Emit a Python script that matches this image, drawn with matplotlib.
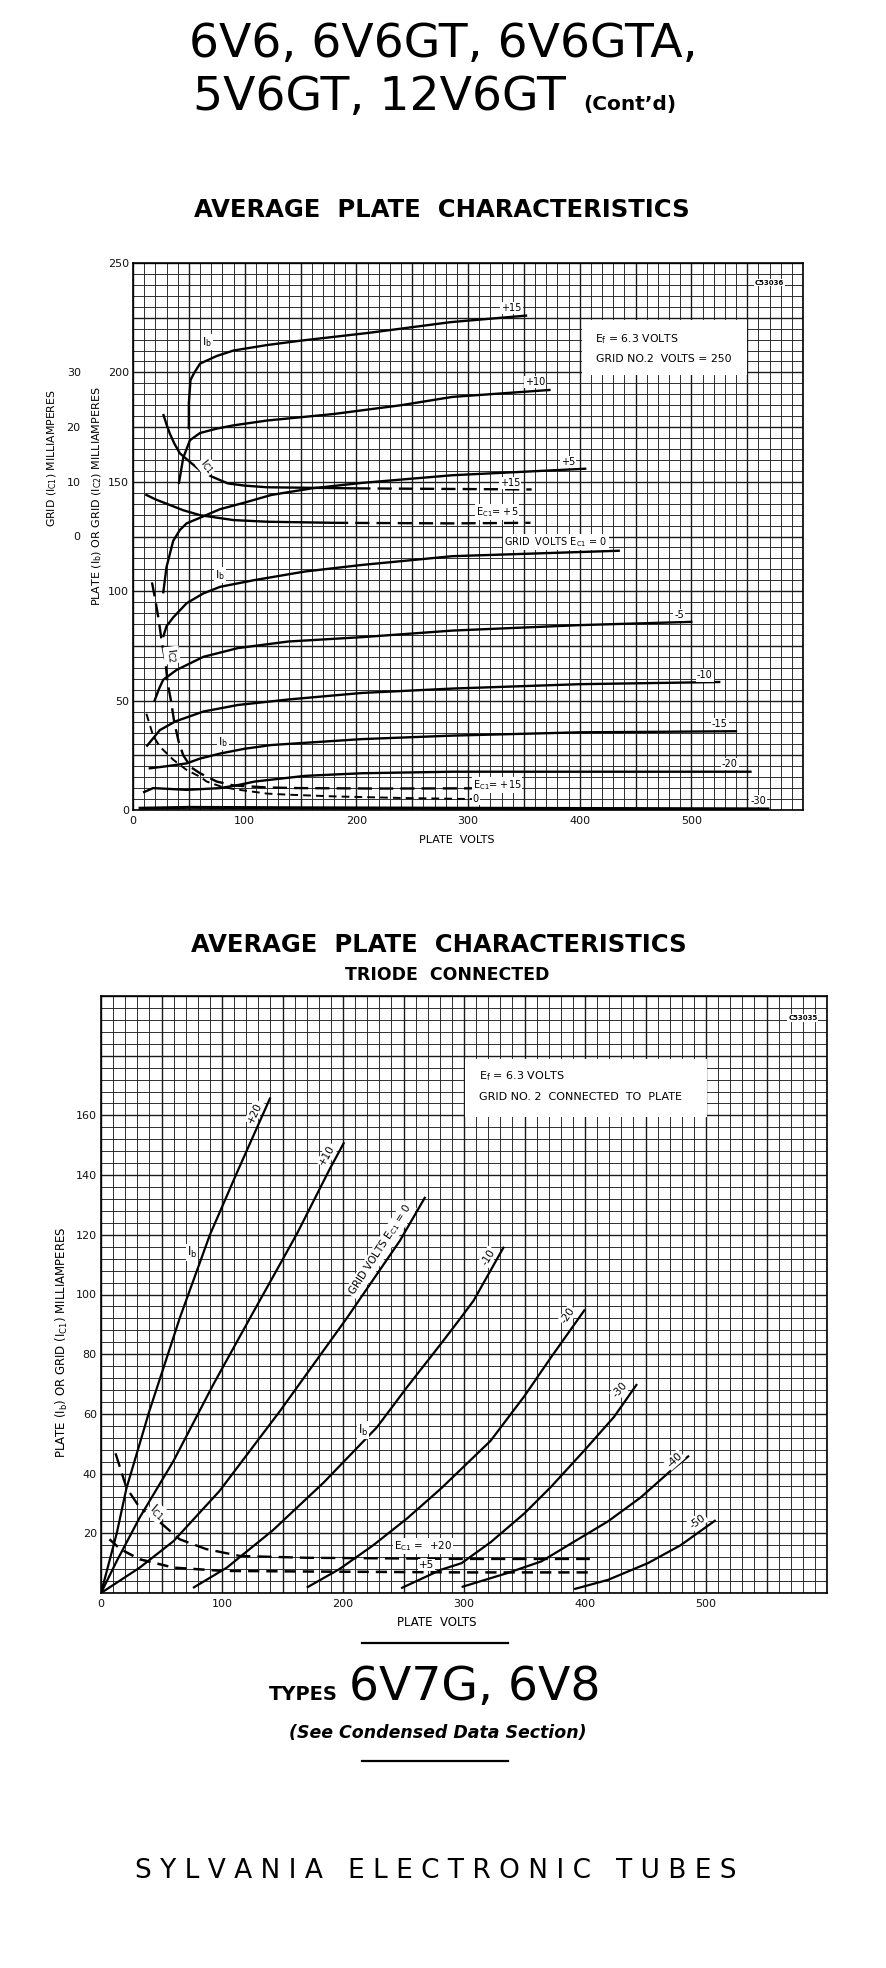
import numpy as np
import matplotlib
matplotlib.use("Agg")
import matplotlib.pyplot as plt
from matplotlib.lines import Line2D
from matplotlib.patches import Rectangle

plt.rcParams['font.family'] = ['DejaVu Sans']
plt.rcParams['mathtext.default'] = 'regular'

W, H = 886, 1968

# ---------------- upper chart: pentode, grid No.2 = 250 V ----------------
# plate current Ib (mA) vs plate volts, one list per grid-1 voltage
ib_p15 = [(50, 174), (50, 186), (51.5, 196.5), (54.5, 199.5), (60, 204), (75, 207.5), (90, 210),
          (120, 212.5), (150, 214.5), (210, 218), (285, 223), (353, 226)]
ib_p10 = [(41, 149), (45, 161), (51, 169), (60, 172.3), (75, 174.3), (90, 175.8), (120, 178),
          (180, 181), (240, 185), (286, 188.8), (374, 192)]
ib_p5 = [(27, 99), (30, 111), (36, 123), (42, 128), (48, 131), (62, 134), (78, 137.5), (100, 140.5),
         (124, 144), (160, 147), (205, 149.5), (286, 153), (406, 156)]
ib_0 = [(27, 79), (30, 84), (36, 88), (48, 94.5), (63, 99), (78, 102), (108, 105), (154, 109),
        (205, 112), (286, 116), (436, 118.5)]
ib_m5 = [(19, 49.5), (23, 55), (27, 59.5), (39, 64), (63, 70), (94, 74), (139, 77), (205, 79),
         (286, 82), (400, 84.5), (501, 86)]
ib_m10 = [(12, 29), (24, 36.5), (38, 40.5), (63, 45), (94, 48), (139, 50.5), (205, 53.5),
          (286, 55.5), (400, 57.5), (526, 58.5)]
ib_m15 = [(14, 19), (30, 20), (48, 21.3), (60, 23.5), (78, 25.8), (100, 28), (124, 29.7),
          (205, 32.4), (286, 34), (400, 35.5), (541, 36)]
ib_m20 = [(9, 8), (18, 10), (30, 9.7), (48, 9.2), (78, 10), (95, 11.5), (109, 13), (154, 15.6),
          (205, 16.8), (286, 17.5), (400, 17.5), (554, 17.5)]
ib_m30 = [(5, 0.8), (50, 1.2), (150, 1), (300, 0.8), (570, 0.5)]

# screen current Ic2 (mA)
ic2_p15 = [(17, 104), (20, 96), (23, 87), (26, 76), (29, 68), (31, 58), (34, 50), (37, 40), (41, 31),
           (45, 25), (52, 19.5), (60, 16.8), (75, 13), (90, 11.2), (120, 10.3), (150, 10),
           (220, 9.8), (304, 9.9)]
ic2_0 = [(12, 44), (18, 34), (24, 29), (30, 26), (36, 23), (48, 18.3), (60, 15.2), (66, 13),
         (80, 10.5), (94, 9.3), (120, 7.5), (139, 7), (181, 6.2), (240, 5.5), (304, 5)]

# grid current Ic1 (mA, left-hand scale)
ic1_p15 = [(27, 22.4), (30, 20.5), (33, 18.8), (37, 17), (42, 15.2), (50, 13.8), (60, 12.1),
           (70, 11), (85, 9.7), (100, 9.3), (120, 9), (200, 8.8), (357, 8.6)]
ic1_p5 = [(11, 7.7), (20, 6.8), (30, 6), (45, 4.8), (60, 3.9), (90, 3), (120, 2.7), (180, 2.5),
          (286, 2.4), (356, 2.5)]

# ---------------- lower chart: triode connected ----------------
tb_p20 = [(0, 0), (13, 20), (21, 35), (40, 61), (65, 92), (90, 120), (112, 140.5), (140, 166)]
tb_p10 = [(0, 0), (13, 10.7), (32, 25.3), (60, 44.3), (93, 70), (123, 92), (162, 120.4),
          (189, 142), (201, 151)]
tb_0 = [(0, 0), (32, 8.5), (60, 17.4), (98, 34.2), (148, 61), (203, 92), (247, 118), (268, 132.7)]
tb_m10 = [(76, 1.7), (104, 8.5), (142, 21), (184, 37), (228, 55.5), (253, 69), (280, 83),
          (297, 92), (308, 98), (333, 116)]
tb_m20 = [(170, 1.8), (197, 8), (225, 16), (253, 25), (281, 35), (322, 51), (350, 66), (372, 79),
          (400, 95)]
tb_m30 = [(248, 1.6), (281, 7.8), (298, 10), (322, 17), (350, 26.7), (372, 35.6), (400, 48),
          (424, 59), (443, 70)]
tb_m40 = [(298, 2), (336, 6.7), (364, 10.6), (391, 17.2), (419, 24), (446, 32), (471, 41), (486, 46)]
tb_m50 = [(391, 1.3), (419, 4.4), (452, 10), (479, 16), (508, 24.4)]
tic1_p20 = [(12, 46.8), (21, 35.3), (32, 28.6), (49, 23.6), (65, 18), (87, 14.7), (115, 12.4),
            (170, 11.8), (300, 11.4), (404, 11.4)]
tic1_p5 = [(7, 18), (16, 14.7), (32, 11.3), (60, 8.5), (101, 7.4), (170, 7.2), (300, 6.9), (404, 6.9)]

top_xticks = [0, 100, 200, 300, 400, 500]
top_yticks = [0, 50, 100, 150, 200, 250]
ic1_ticks = [0, 10, 20, 30]
bot_xticks = [0, 100, 200, 300, 400, 500]
bot_yticks = [20, 40, 60, 80, 100, 120, 140, 160]


def px(x, y):
    return x / W, 1 - y / H


def paper(ax, xmax, ymax, xstep, ystep, xbold, ybold):
    xs = np.arange(0, xmax + 0.01, xstep)
    ys = np.arange(0, ymax + 0.01, ystep)
    thin_x = [x for x in xs if round(x) % xbold]
    bold_x = [x for x in xs if round(x) % xbold == 0]
    thin_y = [y for y in ys if round(y) % ybold]
    bold_y = [y for y in ys if round(y) % ybold == 0]
    ax.vlines(thin_x, 0, ymax, color='#2a2a2a', lw=0.68, zorder=0)
    ax.hlines(thin_y, 0, xmax, color='#2a2a2a', lw=0.68, zorder=0)
    ax.vlines(bold_x, 0, ymax, color='#1a1a1a', lw=1.0, zorder=0.5)
    ax.hlines(bold_y, 0, xmax, color='#1a1a1a', lw=1.0, zorder=0.5)
    ax.set_xlim(0, xmax)
    ax.set_ylim(0, ymax)
    for s in ax.spines.values():
        s.set_linewidth(1.2)
    ax.tick_params(length=0, labelsize=8, pad=3, colors='#111')


def curve(ax, pts, lw=1.7, **kw):
    v, i = zip(*pts)
    ax.plot(v, i, color='black', lw=lw, zorder=3, solid_capstyle='butt', **kw)


def tag(ax, x, y, s, rot=0, size=7, **kw):
    ax.text(x, y, s, fontsize=size, rotation=rot, ha='center', va='center',
            rotation_mode='anchor', zorder=5,
            bbox=dict(fc='white', ec='none', pad=0.8), **kw)


fig = plt.figure(figsize=(W / 100, H / 100), dpi=100)
fig.patch.set_facecolor('white')

# ---------------- headings ----------------
fig.text(*px(443, 57), '6V6, 6V6GT, 6V6GTA,', fontsize=34, ha='center', va='baseline')
fig.text(*px(566, 110), '5V6GT, 12V6GT', fontsize=34, ha='right', va='baseline')
fig.text(*px(583, 110), '(Cont\u2019d)', fontsize=14.5, weight='bold', ha='left', va='baseline')
fig.text(*px(442, 217), 'AVERAGE  PLATE  CHARACTERISTICS', fontsize=17.5, weight='bold',
         ha='center', va='baseline')

# ---------------- upper chart ----------------
ax1 = fig.add_axes([133 / W, 1 - 810 / H, 670 / W, 547 / H])
paper(ax1, 600, 250, 10, 5, 50, 25)
ax1.set_xticks(top_xticks)
ax1.set_yticks(top_yticks)
ax1.tick_params(axis='x', pad=4)

for pts in [ib_p15, ib_p10, ib_p5, ib_0, ib_m5, ib_m10, ib_m15, ib_m20]:
    curve(ax1, pts)
curve(ax1, ib_m30, lw=2.2)
curve(ax1, ic2_p15, ls=(0, (6, 3)))
curve(ax1, ic2_0, lw=1.4, ls=(0, (4, 2.6)))

# grid current drawn on the main scale: Ib = 125 + 2.5 * Ic1
solid_limit = 210
for pts in [ic1_p15, ic1_p5]:
    g = [(v, 125 + 2.5 * c) for v, c in pts]
    near = [p for p in g if p[0] <= solid_limit]
    far = [p for p in g if p[0] >= near[-1][0]]
    curve(ax1, near)
    curve(ax1, far, ls=(0, (6, 3)))

sec = ax1.secondary_yaxis(-0.078, functions=(lambda y: (y - 125) / 2.5, lambda c: 125 + 2.5 * c))
sec.set_yticks(ic1_ticks)
sec.spines['left'].set_visible(False)
sec.tick_params(length=0, labelsize=8, pad=0, colors='#111')

ax1.add_patch(Rectangle((402, 199), 148, 25, fc='white', ec='none', zorder=1))
ax1.text(414, 215, '$E_f$ = 6.3 VOLTS', fontsize=7.8, va='center', zorder=5)
ax1.text(415, 206.3, 'GRID NO.2  VOLTS = 250', fontsize=7.8, va='center', zorder=5)
ax1.text(570, 241, 'C53036', fontsize=5, weight='bold', ha='center', va='center', zorder=5,
         bbox=dict(fc='white', ec='none', pad=0.5))

tag(ax1, 66, 214, '$I_b$', size=8)
tag(ax1, 66, 157, '$I_{C1}$', rot=-50, size=8)
tag(ax1, 78, 107.5, '$I_b$', size=8)
tag(ax1, 34.6, 70.8, '$I_{C2}$', rot=-82, size=8)
tag(ax1, 80.6, 31, '$I_b$', size=8)
tag(ax1, 339, 229.5, '+15')
tag(ax1, 360, 195.6, '+10')
tag(ax1, 389.5, 159, '+5')
tag(ax1, 337.5, 149.6, '+15')
tag(ax1, 326, 136, '$E_{C1}$= +5')
tag(ax1, 379, 122.5, 'GRID  VOLTS $E_{C1}$ = 0')
tag(ax1, 489, 89, '-5')
tag(ax1, 512, 61.5, '-10')
tag(ax1, 525.5, 39.5, '-15')
tag(ax1, 534.5, 21, '-20')
tag(ax1, 560, 4, '-30')
tag(ax1, 326, 11.5, '$E_{C1}$= +15')
tag(ax1, 307, 5.2, '0')

fig.text(*px(97, 496), 'PLATE ($I_b$) OR GRID ($I_{C2}$) MILLIAMPERES', fontsize=8,
         rotation=90, ha='center', va='center')
fig.text(*px(52, 458), 'GRID ($I_{C1}$) MILLIAMPERES', fontsize=7.8, rotation=90,
         ha='center', va='center')
fig.text(*px(457, 840), 'PLATE  VOLTS', fontsize=8, ha='center', va='center')

# ---------------- lower chart ----------------
fig.text(*px(439, 952), 'AVERAGE  PLATE  CHARACTERISTICS', fontsize=17.5, weight='bold',
         ha='center', va='baseline')
fig.text(*px(447, 980), 'TRIODE  CONNECTED', fontsize=12.5, weight='bold',
         ha='center', va='baseline')

ax2 = fig.add_axes([101 / W, 1 - 1593 / H, 726 / W, 597 / H])
paper(ax2, 600, 200, 10, 4, 50, 20)
ax2.set_xticks(bot_xticks)
ax2.set_yticks(bot_yticks)
ax2.tick_params(axis='x', pad=4)

for pts in [tb_p20, tb_p10, tb_0, tb_m10, tb_m20, tb_m30, tb_m40, tb_m50]:
    curve(ax2, pts, lw=1.6)
curve(ax2, tic1_p20, ls=(0, (6, 3)))
curve(ax2, tic1_p5, lw=1.8, ls=(0, (4.5, 2.8)))

ax2.add_patch(Rectangle((301, 159.5), 200, 19.5, fc='white', ec='none', zorder=1))
ax2.text(312, 173, '$E_f$ = 6.3 VOLTS', fontsize=8, va='center', zorder=5)
ax2.text(312, 166, 'GRID NO. 2  CONNECTED  TO  PLATE', fontsize=8, va='center', zorder=5)
ax2.text(580, 192.6, 'C53035', fontsize=5, weight='bold', ha='center', va='center', zorder=5,
         bbox=dict(fc='white', ec='none', pad=0.5))

tag(ax2, 127, 161, '+20', rot=65, size=7.5)
tag(ax2, 187, 146.7, '+10', rot=60, size=7.5)
tag(ax2, 231, 115, 'GRID VOLTS $E_{C1}$ = 0', rot=57, size=7.5)
tag(ax2, 320, 112.6, '-10', rot=58, size=7.5)
tag(ax2, 386, 93, '-20', rot=55, size=7.5)
tag(ax2, 429, 68, '-30', rot=48, size=7.5)
tag(ax2, 474, 44.6, '-40', rot=42, size=7.5)
tag(ax2, 493, 24, '-50', rot=35, size=7.5)
tag(ax2, 75, 114, '$I_b$', size=8.5)
tag(ax2, 216.5, 54.6, '$I_b$', size=8.5)
tag(ax2, 46, 27, '$I_{C1}$', rot=-40, size=8.5)
tag(ax2, 266, 15.6, '$E_{C1}$ =  +20', size=7.5)
tag(ax2, 269, 9.4, '+5', size=7.5)

fig.text(*px(62, 1342), 'PLATE ($I_b$) OR GRID ($I_{C1}$) MILLIAMPERES', fontsize=8.5,
         rotation=90, ha='center', va='center')
fig.text(*px(437, 1622), 'PLATE  VOLTS', fontsize=8.5, ha='center', va='center')

# ---------------- footer ----------------
for y in (1643, 1761):
    fig.add_artist(Line2D([362 / W, 508 / W], [1 - y / H] * 2, lw=1.6, color='black'))
fig.text(*px(338, 1700), 'TYPES', fontsize=14, weight='bold', ha='right', va='baseline')
fig.text(*px(349, 1700), '6V7G, 6V8', fontsize=34, ha='left', va='baseline')
fig.text(*px(438, 1738), '(See Condensed Data Section)', fontsize=12.5, weight='bold',
         style='italic', ha='center', va='baseline')
fig.text(*px(436, 1878), 'S Y L V A N I A   E L E C T R O N I C   T U B E S', fontsize=19,
         ha='center', va='baseline')

fig.savefig('out.png', dpi=100, facecolor='white')
